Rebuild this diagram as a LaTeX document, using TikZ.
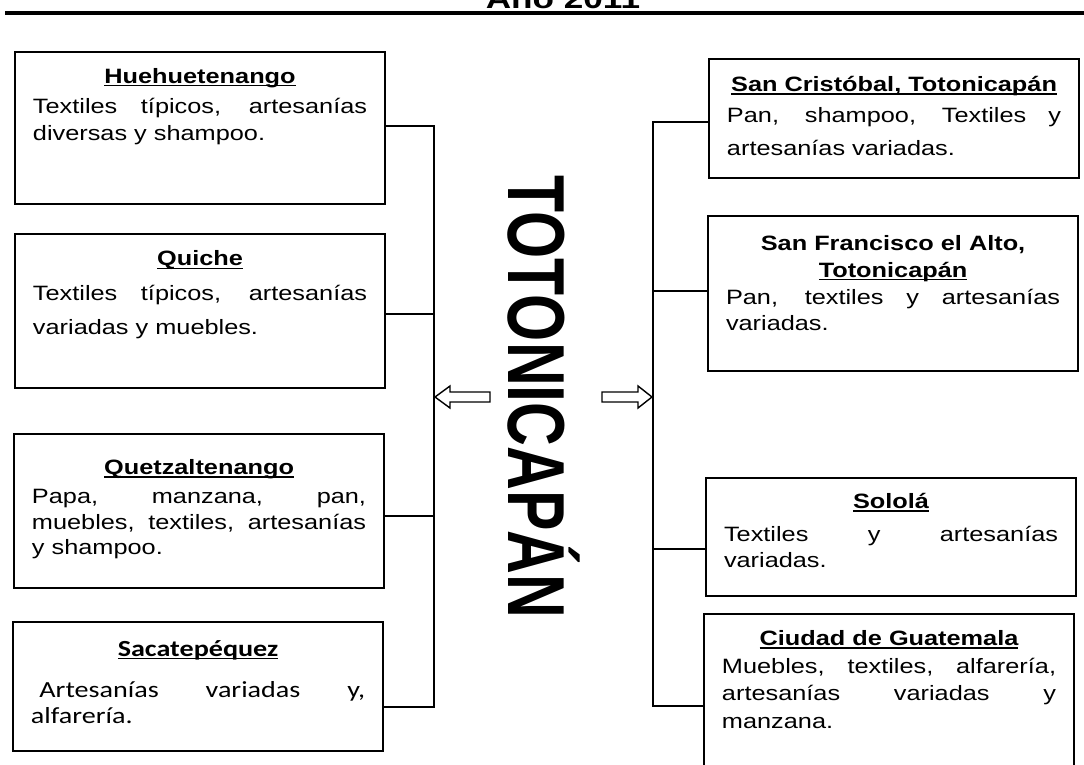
\documentclass[tikz,border=0pt]{standalone}
\usepackage{fontspec}
\setmainfont{Liberation Sans}
\newfontfamily\calibri{Carlito}
\usepackage{tikz}
\usetikzlibrary{positioning}

\hbadness=10000
\vbadness=10000
\newcommand{\subr}[1]{\leavevmode\setbox0\hbox{#1}\rlap{\rule[-3pt]{\wd0}{1.6pt}}\box0}
\newcommand{\titulo}[1]{{\centering\bfseries\subr{#1}\par}}
\newcommand{\cajatexto}[3]{\scalebox{1}[0.82]{\parbox[c][#1][t]{8.35cm}{\fontsize{18}{#2}\selectfont #3}}}

\begin{document}
\begin{tikzpicture}[x=0.025cm, y=-0.025cm,
  caja/.style={draw, line width=1.4pt, anchor=north west, inner xsep=0.45cm, inner ysep=0.55cm},
  enlace/.style={line width=2pt},
  flecha/.style={draw, line width=1pt, fill=white, line join=miter}]

\useasboundingbox (0,0) rectangle (1084,764);

% encabezado
\node[anchor=base, font=\fontsize{25}{30}\selectfont\bfseries] (anio) at (563,8) {\scalebox{1}[0.78]{Año 2011}};
\draw[line width=2.5pt] (5,13) -- (1084,13);

% centro
\node[rotate=-90, inner sep=0pt, text height=40pt, text depth=0pt, font=\fontsize{57.5}{60}\selectfont\bfseries] (toto) at (537,397) {\scalebox{0.75}[1]{TOTONICAPÁN}};

% destinos a la izquierda
\node[caja] (hue) at (14,51) {\cajatexto{3.29cm}{23.4}{\vspace*{-5.2pt}\titulo{Huehuetenango}\vspace{2.6pt}
Textiles típicos, artesanías\linebreak diversas y shampoo.}};
\node[caja] (qui) at (14,233) {\cajatexto{3.35cm}{29.4}{\vspace*{-4.4pt}\titulo{Quiche}\vspace{0.8pt}
Textiles típicos, artesanías\linebreak variadas y muebles.}};
\node[caja] (que) at (13,433) {\cajatexto{3.35cm}{22.2}{\vspace*{3.3pt}\titulo{Quetzaltenango}\vspace{2.6pt}
Papa, manzana, pan,\linebreak muebles, textiles, artesanías\linebreak y shampoo.}};
\node[caja] (sac) at (12,621) {\cajatexto{2.59cm}{22.8}{\calibri\fontsize{20}{22.8}\selectfont\vspace*{-3.4pt}\titulo{Sacatepéquez}\vspace{13.3pt}
\hspace*{0.3em}Artesanías variadas y,\linebreak alfarería.}};

% destinos a la derecha
\node[caja] (scr) at (708,58) {\cajatexto{2.29cm}{28.6}{\vspace*{-4.4pt}\titulo{San Cristóbal, Totonicapán}\vspace{-1.1pt}
Pan, shampoo, Textiles y\linebreak artesanías variadas.}};
\node[caja] (sfa) at (707,215) {\cajatexto{3.38cm}{23.4}{\vspace*{-2.6pt}{\centering\bfseries San Francisco el Alto,\par}\titulo{Totonicapán}
Pan, textiles y artesanías\linebreak variadas.}};
\node[caja] (sol) at (705,477) {\cajatexto{2.26cm}{22.5}{\vspace*{-6.1pt}\titulo{Sololá}\vspace{6.1pt}
Textiles y artesanías\linebreak variadas.}};
\node[caja] (cgu) at (703,613) {\cajatexto{4.33cm}{23.8}{\vspace*{-5.2pt}\titulo{Ciudad de Guatemala}\vspace{0.6pt}
Muebles, textiles, alfarería,\linebreak artesanías variadas y\linebreak manzana.}};

% llaves
\coordinate (L1) at (434,126);
\coordinate (L2) at (434,314);
\coordinate (L3) at (434,516);
\coordinate (L4) at (434,707);
\coordinate (R1) at (653,122);
\coordinate (R2) at (653,291);
\coordinate (R3) at (653,549);
\coordinate (R4) at (653,706);

\draw[enlace] (hue.east |- L1) -- (L1) -- (L4) -- (sac.east |- L4);
\draw[enlace] (qui.east |- L2) -- (L2);
\draw[enlace] (que.east |- L3) -- (L3);
\draw[enlace] (scr.west |- R1) -- (R1) -- (R4) -- (cgu.west |- R4);
\draw[enlace] (sfa.west |- R2) -- (R2);
\draw[enlace] (sol.west |- R3) -- (R3);

% flechas
\coordinate (fl) at (435,397);
\coordinate (fr) at (652,397);
\draw[flecha] (fl) -- ++(15,-11) -- ++(0,6) -- ++(40,0) -- ++(0,10) -- ++(-40,0) -- ++(0,6) -- cycle;
\draw[flecha] (fr) -- ++(-14,-11) -- ++(0,6) -- ++(-36,0) -- ++(0,10) -- ++(36,0) -- ++(0,6) -- cycle;

\end{tikzpicture}
\end{document}
